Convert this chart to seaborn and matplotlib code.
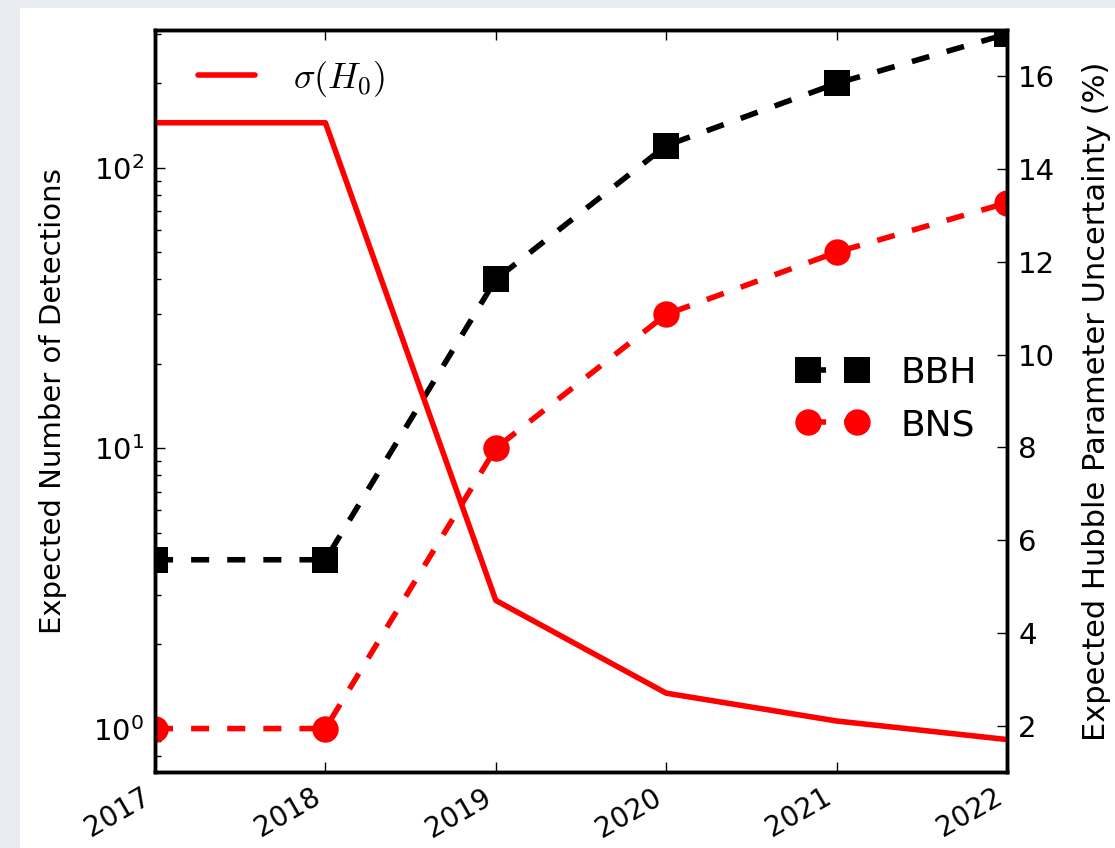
import matplotlib
matplotlib.use('Agg')
import matplotlib.pyplot as plt
import seaborn as sns
from matplotlib.patches import Rectangle

# ---- data ----
years = [2017, 2018, 2019, 2020, 2021, 2022]
year_labels = ['2017', '2018', '2019', '2020', '2021', '2022']
bbh = [4, 4, 40, 120, 200, 300]
bns = [1, 1, 10, 30, 50, 75]
h0_unc = [15, 15, 4.7, 2.7, 2.1, 1.7]
right_ticks = [2, 4, 6, 8, 10, 12, 14, 16]

sns.set_theme(style='white')
plt.rcParams['font.family'] = ['DejaVu Sans']
plt.rcParams['mathtext.fontset'] = 'cm'
plt.rcParams['lines.dashed_pattern'] = [3.25, 3.25]
plt.rcParams['text.color'] = 'black'
plt.rcParams['axes.labelcolor'] = 'black'

W, H = 1115, 848
fig = plt.figure(figsize=(W / 100, H / 100), dpi=100)
fig.patch.set_facecolor('#e9ecf0')
fig.add_artist(Rectangle((20 / W, 0), 1, 1 - 8 / H, transform=fig.transFigure,
                         facecolor='white', edgecolor='none', zorder=-10))

ax = fig.add_axes([155 / W, 1 - 772 / H, 852 / W, 742 / H])
ax.set_facecolor('white')

lw = 4
sns.lineplot(x=years, y=bbh, ax=ax, color='black', marker='s', markersize=19,
             linewidth=lw, linestyle='--', markeredgecolor='black', markeredgewidth=0)
sns.lineplot(x=years, y=bns, ax=ax, color='#ff0000', marker='o', markersize=19,
             linewidth=lw, linestyle='--', markeredgecolor='#ff0000', markeredgewidth=0)
ax.set_yscale('log')
ax.set_ylim(0.7, 310)
ax.set_xlim(2017, 2022)
ax.set_xticks(years)
ax.set_xticklabels(year_labels, rotation=30, ha='right', fontsize=20)
ax.set_ylabel('Expected Number of Detections', fontsize=21, labelpad=19, color='black')
ax.set_xlabel('')
ax.tick_params(axis='both', which='both', direction='in', top=True, bottom=True,
               left=True, right=False, colors='black', width=1)
ax.tick_params(axis='x', which='major', length=7, labelsize=20, pad=8)
ax.tick_params(axis='y', which='major', length=7, labelsize=21, pad=8)
ax.tick_params(axis='y', which='minor', length=4)
ax.tick_params(axis='x', which='minor', length=0)

ax2 = ax.twinx()
sns.lineplot(x=years, y=h0_unc, ax=ax2, color='#ff0000', linewidth=lw)
ax2.set_ylim(1, 17)
ax2.set_yticks(right_ticks)
ax2.set_yticklabels([str(t) for t in right_ticks], fontsize=21)
ax2.set_ylabel('Expected Hubble Parameter Uncertainty (%)', fontsize=22, labelpad=19,
               color='black')
ax2.tick_params(axis='y', which='both', direction='in', left=False, right=True,
                length=7, width=1, colors='black', pad=8)

for a in (ax, ax2):
    for s in a.spines.values():
        s.set_color('black')
        s.set_linewidth(2.5)
        s.set_visible(True)

# legends
h0_line = ax2.lines[0]
leg1 = ax2.legend([h0_line], [r'$\sigma(H_0)$'], loc='center left',
                  bbox_to_anchor=(43 / 852, (772 - 79) / 742), frameon=False,
                  fontsize=26, handlelength=1.58, handletextpad=1.05, numpoints=1,
                  borderpad=0, borderaxespad=0)

bbh_line, bns_line = ax.lines[0], ax.lines[1]
leg2 = ax.legend([bbh_line, bns_line], ['BBH', 'BNS'], loc='center left',
                 bbox_to_anchor=((797 - 155) / 852, (772 - 399) / 742), frameon=False,
                 fontsize=26, handlelength=1.96, handletextpad=0.9, numpoints=2,
                 labelspacing=0.5, borderpad=0, borderaxespad=0)

fig.savefig('out.png', dpi=100, facecolor=fig.get_facecolor())
